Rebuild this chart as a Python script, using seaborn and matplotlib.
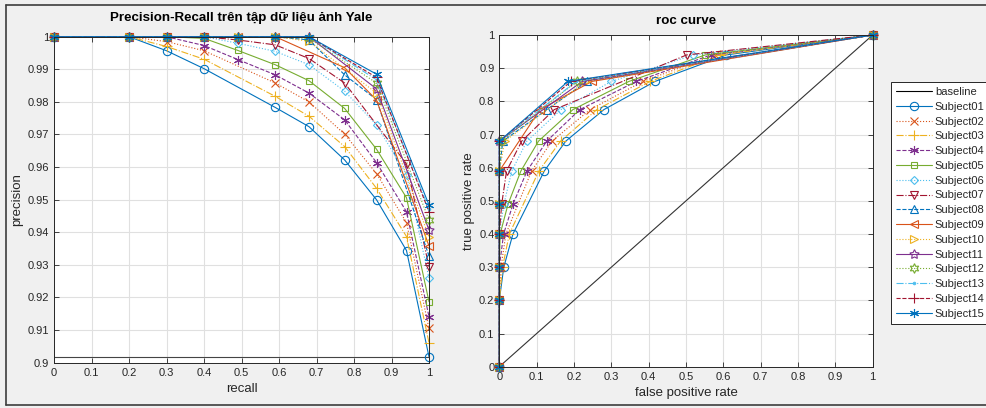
import numpy as np
import pandas as pd
import matplotlib
matplotlib.use("Agg")
import matplotlib.pyplot as plt
import seaborn as sns
from matplotlib.lines import Line2D

nan = np.nan

# recall / true-positive-rate thresholds shared by every subject
levels = [0.0, 0.2, 0.3, 0.4, 0.49, 0.59, 0.68, 0.775, 0.86, 0.94, 1.0]

subjects = [f"Subject{i:02d}" for i in range(1, 16)]

# precision at each recall level (nan = level not reached by that subject)
prec01 = [1, 1, 0.9957, 0.9902, nan, 0.9783, 0.9724, 0.9622, 0.9500, 0.9344, 0.9018]
prec02 = [1, 1, 0.9985, 0.9957, nan, 0.9858, 0.9800, 0.9701, 0.9580, 0.9430, 0.9105]
prec03 = [1, 1, 0.9970, 0.9931, nan, 0.9817, 0.9756, 0.9663, 0.9535, 0.9387, 0.9061]
prec04 = [1, 1, 1.0, 0.9973, 0.9930, 0.9883, 0.9827, 0.9745, 0.9614, 0.9463, 0.9141]
prec05 = [1, 1, 1.0, 0.9995, 0.9958, 0.9914, 0.9865, 0.9780, 0.9655, 0.9506, 0.9187]
prec06 = [1, 1, 1.0, 1.0, 0.9980, 0.9955, 0.9914, 0.9833, 0.9729, 0.9577, 0.9259]
prec07 = [1, 1, 1.0, 1.0, 0.9990, 0.9975, 0.9933, 0.9858, nan, 0.9610, 0.9294]
prec08 = [1, 1, 1.0, 1.0, 1.0, 1.0, 0.9990, 0.9883, 0.9807, nan, 0.9327]
prec09 = [1, 1, 1.0, 1.0, 1.0, 1.0, nan, 0.9905, 0.9806, nan, 0.9358]
prec10 = [1, 1, 1.0, 1.0, 1.0, 1.0, 0.9986, nan, 0.9827, nan, 0.9386]
prec11 = [1, 1, 1.0, 1.0, 1.0, 1.0, 1.0, nan, 0.9840, nan, 0.9407]
prec12 = [1, 1, 1.0, 1.0, 1.0, 1.0, 0.9995, nan, 0.9858, nan, 0.9437]
prec13 = [1, 1, 1.0, 1.0, 1.0, 1.0, 1.0, nan, 0.9868, nan, 0.9472]
prec14 = [1, 1, 1.0, 1.0, 1.0, 1.0, 1.0, nan, 0.9875, nan, 0.9463]
prec15 = [1, 1, 1.0, 1.0, 1.0, 1.0, 1.0, nan, 0.9885, nan, 0.9484]

# false positive rate at each true-positive-rate level
fpr01 = [0, 0, 0.012, 0.0365, nan, 0.1205, 0.178, 0.280, 0.417, 0.608, 1]
fpr02 = [0, 0, 0.0046, 0.0176, nan, 0.0864, 0.141, 0.243, 0.384, 0.578, 1]
fpr03 = [0, 0, 0.0087, 0.0268, nan, 0.106, 0.164, 0.261, 0.404, 0.592, 1]
fpr04 = [0, 0, 0, 0.0115, 0.0367, 0.0742, 0.127, 0.2155, 0.367, 0.567, 1]
fpr05 = [0, 0, 0, 0.0023, 0.0234, 0.0578, 0.105, 0.197, 0.347, 0.552, 1]
fpr06 = [0, 0, 0, 0, 0.0123, 0.0334, 0.0738, 0.165, 0.300, 0.520, 1]
fpr07 = [0, 0, 0, 0, 0.0064, 0.0194, 0.060, 0.147, nan, 0.502, 1]
fpr08 = [0, 0, 0, 0, 0, 0, 0.0094, 0.127, 0.235, nan, 1]
fpr09 = [0, 0, 0, 0, 0, 0, nan, 0.109, 0.248, nan, 1]
fpr10 = [0, 0, 0, 0, 0, 0, 0.0146, nan, 0.231, nan, 1]
fpr11 = [0, 0, 0, 0, 0, 0, 0, nan, 0.222, nan, 1]
fpr12 = [0, 0, 0, 0, 0, 0, 0.0057, nan, 0.207, nan, 1]
fpr13 = [0, 0, 0, 0, 0, 0, 0, nan, 0.206, nan, 1]
fpr14 = [0, 0, 0, 0, 0, 0, 0, nan, 0.192, nan, 1]
fpr15 = [0, 0, 0, 0, 0, 0, 0, nan, 0.184, nan, 1]

precisions = [prec01, prec02, prec03, prec04, prec05, prec06, prec07, prec08,
              prec09, prec10, prec11, prec12, prec13, prec14, prec15]
fprs = [fpr01, fpr02, fpr03, fpr04, fpr05, fpr06, fpr07, fpr08,
        fpr09, fpr10, fpr11, fpr12, fpr13, fpr14, fpr15]

pr_baseline = 0.9018
x_ticks = [round(0.1 * i, 1) for i in range(11)]
pr_y_ticks = [round(0.9 + 0.01 * i, 2) for i in range(11)]
tick_labels = ["0", "0.1", "0.2", "0.3", "0.4", "0.5", "0.6", "0.7", "0.8", "0.9", "1"]
pr_y_labels = ["0.9", "0.91", "0.92", "0.93", "0.94", "0.95", "0.96", "0.97", "0.98", "0.99", "1"]

# MATLAB-like default color order
blue, orange, yellow, purple = "#0072BD", "#D95319", "#EDB120", "#7E2F8E"
green, cyan, red = "#77AC30", "#4DBEEE", "#A2142F"
colors = [blue, orange, yellow, purple, green, cyan, red, blue,
          orange, yellow, purple, green, cyan, red, blue]
styles = ["-", ":", "-.", "--", "-", ":", "-.", "--", "-", ":", "-", ":", "-.", "--", "-"]
asterisk = (6, 2, 0)
markers = ["o", "x", "+", asterisk, "s", "D", "v", "^", "<", ">",
           (5, 1, 0), (6, 1, 0), ".", "+", asterisk]
msizes = [6, 5.5, 6.5, 6.5, 5, 4.5, 5.5, 5.5, 5.5, 5.5, 7, 7, 3.5, 6.5, 6.5]

sns.set_style("ticks")
plt.rcParams["font.family"] = ["Liberation Sans", "DejaVu Sans"]

ink = "#262626"
fig = plt.figure(figsize=(9.87, 4.08), dpi=100, facecolor="#F0F0F0")
ax1 = fig.add_axes([54 / 987, 1 - 362.7 / 408, 375 / 987, 326 / 408])
ax2 = fig.add_axes([499.3 / 987, 1 - 366.7 / 408, 373.4 / 987, 331.7 / 408])

# diagonal reference in the ROC panel
base = pd.DataFrame({"x": [0, 1], "y": [0, 1]})
sns.lineplot(data=base, x="x", y="y", ax=ax2, color="#333333", lw=0.8,
             legend=False, sort=False, estimator=None, errorbar=None)
ax1.axhline(pr_baseline, color="#444444", lw=0.8, zorder=1)

for i, name in enumerate(subjects):
    d = pd.DataFrame({"recall": levels, "precision": precisions[i],
                      "fpr": fprs[i]}).dropna()
    kw = dict(color=colors[i], marker=markers[i], linestyle=styles[i], lw=0.8,
              ms=msizes[i], markerfacecolor="none", markeredgecolor=colors[i],
              markeredgewidth=0.8, clip_on=False, sort=False, estimator=None,
              errorbar=None, legend=False)
    sns.lineplot(data=d, x="recall", y="precision", ax=ax1, **kw)
    sns.lineplot(data=d, x="fpr", y="recall", ax=ax2, **kw)

for ax in (ax1, ax2):
    ax.set_facecolor("white")
    ax.set_xlim(0, 1)
    ax.set_xticks(x_ticks)
    ax.set_xticklabels(tick_labels)
    ax.grid(True, color="#E0E0E0", lw=0.8)
    ax.set_axisbelow(True)
    ax.tick_params(direction="in", top=True, right=True, length=3.5, width=0.6,
                   colors=ink, labelsize=8, pad=3.5)
    for sp in ax.spines.values():
        sp.set_color(ink)
        sp.set_linewidth(0.7)

ax1.set_ylim(0.9, 1)
ax1.set_yticks(pr_y_ticks)
ax1.set_yticklabels(pr_y_labels)
ax1.set_xlabel("recall", fontsize=9.5, color=ink, labelpad=4)
ax1.set_ylabel("precision", fontsize=9.5, color=ink, labelpad=3)
ax1.set_title("Precision-Recall trên tập dữ liệu ảnh Yale", fontsize=9.6,
              fontweight="bold", color="black", pad=11)

ax2.set_ylim(0, 1)
ax2.set_yticks(x_ticks)
ax2.set_yticklabels(tick_labels)
ax2.set_xlabel("false positive rate", fontsize=9.5, color=ink, labelpad=4)
ax2.set_ylabel("true positive rate", fontsize=9.5, color=ink, labelpad=3)
ax2.set_title("roc curve", fontsize=9.6, fontweight="bold", color="black", pad=8)

handles = [Line2D([], [], color="black", lw=0.8)]
labels = ["baseline"]
for i, name in enumerate(subjects):
    handles.append(Line2D([], [], color=colors[i], linestyle=styles[i], lw=0.8,
                          marker=markers[i], ms=msizes[i], markerfacecolor="none",
                          markeredgecolor=colors[i], markeredgewidth=0.8))
    labels.append(name)
leg = fig.legend(handles, labels, loc="upper left",
                 bbox_to_anchor=(891 / 987, 1 - 82 / 408), fontsize=8,
                 frameon=True, fancybox=False, edgecolor=ink, framealpha=1,
                 handlelength=3.2, labelspacing=0.43, borderpad=0.45,
                 handletextpad=0.3, borderaxespad=0, numpoints=1)
leg.get_frame().set_linewidth(0.7)
for t in leg.get_texts():
    t.set_color(ink)

# window frame
frame_kw = dict(color="#3c3c3c", lw=1.2, transform=fig.transFigure)
fig.add_artist(Line2D([6 / 987, 1], [1 - 5 / 408, 1 - 5 / 408], **frame_kw))
fig.add_artist(Line2D([6 / 987, 1], [1 - 405 / 408, 1 - 405 / 408], **frame_kw))
fig.add_artist(Line2D([6 / 987, 6 / 987], [1 - 5 / 408, 1 - 405 / 408], **frame_kw))

fig.savefig("out.png", dpi=100, facecolor=fig.get_facecolor())
